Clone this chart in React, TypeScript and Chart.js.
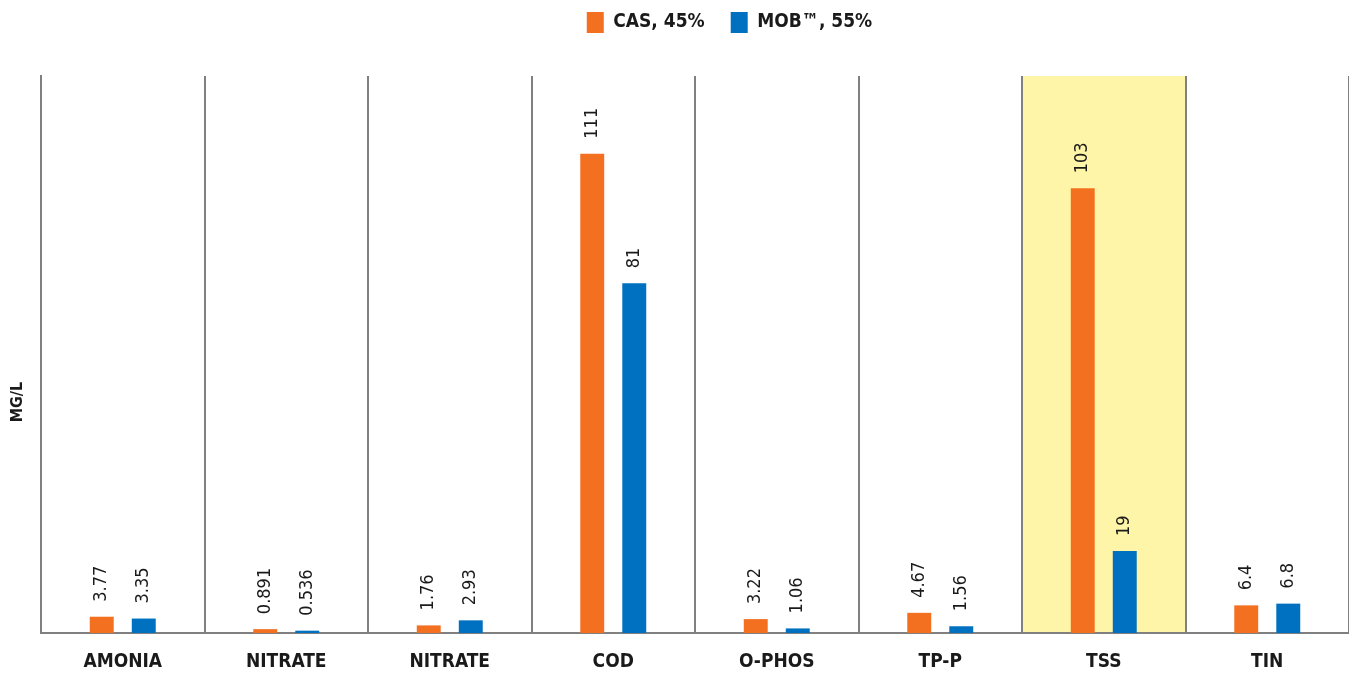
import React, { useEffect, useRef } from "react";
import { Chart, registerables } from "chart.js";

Chart.register(...registerables);

const categories = ["AMONIA", "NITRATE", "NITRATE", "COD", "O-PHOS", "TP-P", "TSS", "TIN"];
const casValues = [3.77, 0.891, 1.76, 111, 3.22, 4.67, 103, 6.4];
const mobValues = [3.35, 0.536, 2.93, 81, 1.06, 1.56, 19, 6.8];
const casLabels = ["3.77", "0.891", "1.76", "111", "3.22", "4.67", "103", "6.4"];
const mobLabels = ["3.35", "0.536", "2.93", "81", "1.06", "1.56", "19", "6.8"];
const highlightIndex = 6;

const FONT = '"DejaVu Sans Condensed", "Liberation Sans Narrow", "Roboto", sans-serif';

const legendMarginPlugin = {
  id: "legendMargin",
  beforeInit(chart: any) {
    const legend = chart.legend;
    if (!legend) return;
    const origFit = legend.fit;
    legend.fit = function () {
      origFit.bind(legend)();
      this.height += 33;
    };
  },
  afterLayout(chart: any) {
    const legend = chart.legend;
    if (!legend) return;
    legend.left += 55;
    legend.right += 55;
  },
};

const highlightPlugin = {
  id: "highlight",
  beforeDraw(chart: any) {
    const { ctx, chartArea, scales } = chart;
    const xs = scales.x;
    const w = (chartArea.right - chartArea.left) / categories.length;
    const cx = xs.getPixelForValue(highlightIndex);
    ctx.save();
    ctx.fillStyle = "#FFF5A8";
    ctx.fillRect(cx - w / 2, chartArea.top, w, chartArea.bottom - chartArea.top);
    ctx.restore();
  },
};

const labelsPlugin = {
  id: "barLabels",
  afterDatasetsDraw(chart: any) {
    const { ctx } = chart;
    const all = [casLabels, mobLabels];
    chart.data.datasets.forEach((_: any, di: number) => {
      const meta = chart.getDatasetMeta(di);
      meta.data.forEach((bar: any, i: number) => {
        ctx.save();
        ctx.translate(bar.x, bar.y - 15);
        ctx.rotate(-Math.PI / 2);
        ctx.font = `18px ${FONT}`;
        ctx.fillStyle = "#1a1a1a";
        ctx.textAlign = "left";
        ctx.textBaseline = "middle";
        ctx.fillText(all[di][i], 0, 0);
        ctx.restore();
      });
    });
  },
};

const yTitlePlugin = {
  id: "yTitle",
  afterDraw(chart: any) {
    const { ctx } = chart;
    ctx.save();
    ctx.translate(18, 402);
    ctx.rotate(-Math.PI / 2);
    ctx.font = `bold 16px ${FONT}`;
    ctx.fillStyle = "#1a1a1a";
    ctx.textAlign = "center";
    ctx.textBaseline = "middle";
    ctx.fillText("MG/L", 0, 0);
    ctx.restore();
  },
};

export default function App() {
  const ref = useRef<HTMLCanvasElement>(null);
  useEffect(() => {
    const chart = new Chart(ref.current!, {
      type: "bar",
      data: {
        labels: categories,
        datasets: [
          {
            label: "CAS, 45%",
            data: casValues,
            backgroundColor: "#F37021",
            categoryPercentage: 0.514,
            barPercentage: 0.57,
          },
          {
            label: "MOB™, 55%",
            data: mobValues,
            backgroundColor: "#0070C0",
            categoryPercentage: 0.514,
            barPercentage: 0.57,
          },
        ],
      },
      options: {
        animation: false,
        responsive: false,
        maintainAspectRatio: false,
        layout: { padding: { top: -14, right: 0, left: 0, bottom: 0 } },
        plugins: {
          legend: {
            position: "top",
            labels: {
              boxWidth: 17,
              boxHeight: 21,
              padding: 26,
              color: "#1a1a1a",
              font: { family: FONT, size: 19, weight: "bold" },
            },
          },
          tooltip: { enabled: false },
        },
        scales: {
          x: {
            afterFit(scale: any) {
              scale.height = 44;
            },
            grid: { color: "#808080", lineWidth: 2, drawTicks: false, offset: true },
            border: { color: "#808080", width: 2 },
            ticks: {
              color: "#1a1a1a",
              padding: 18,
              font: { family: FONT, size: 19, weight: "bold" },
            },
          },
          y: {
            min: 0,
            max: 129,
            afterFit(scale: any) {
              scale.width = 41;
            },
            grid: { display: false, drawTicks: false },
            border: { color: "#808080", width: 2 },
            ticks: { display: false },
          },
        },
      },
      plugins: [legendMarginPlugin, highlightPlugin, labelsPlugin, yTitlePlugin],
    } as any);
    return () => chart.destroy();
  }, []);
  return (
    <div style={{ position: "fixed", left: 0, top: 0, width: 1349, height: 677, background: "#fff" }}>
      <canvas ref={ref} width={1349} height={677} style={{ display: "block" }} />
    </div>
  );
}
